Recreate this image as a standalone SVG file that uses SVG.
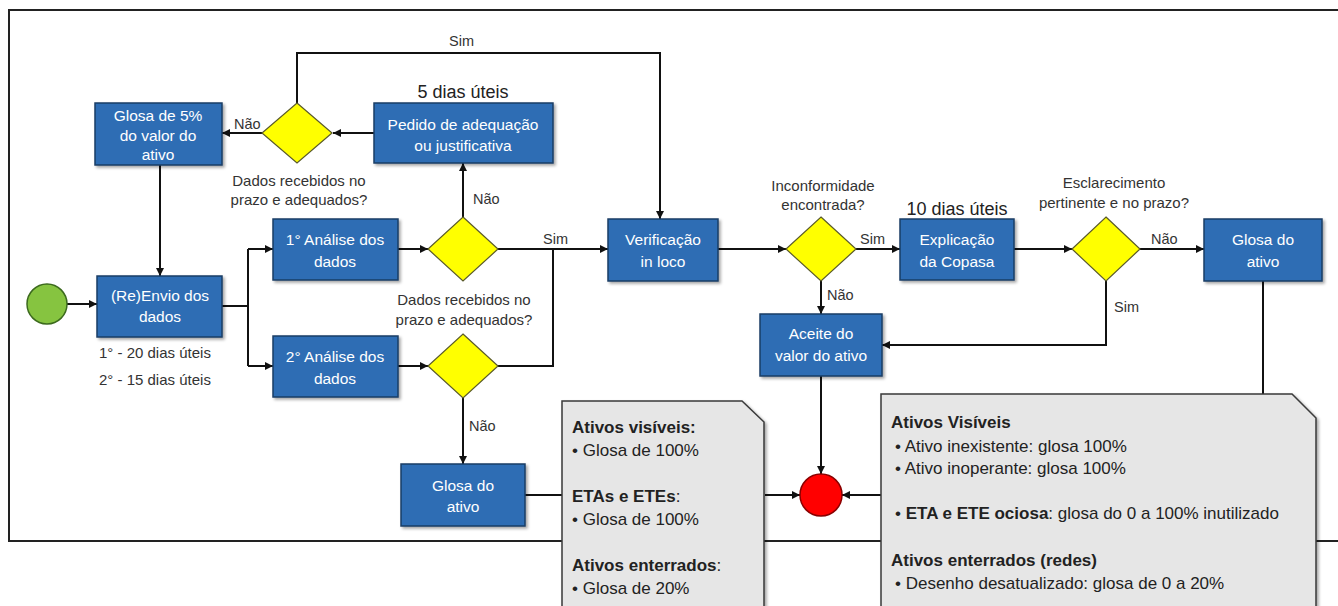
<svg xmlns="http://www.w3.org/2000/svg" width="1338" height="606" viewBox="0 0 1338 606">
<style>
text{font-family:"Liberation Sans",Arial,sans-serif;}
.box{fill:#2E6DB4;stroke:#1B3D66;stroke-width:1.5;filter:url(#sh);}
.bt{fill:#fff;font-size:15.5px;text-anchor:middle;}
.dia{fill:#FFFF00;stroke:#5a5a2a;stroke-width:1.2;}
.lbl{fill:#333;font-size:14.5px;}
.lc{fill:#333;font-size:15px;text-anchor:middle;}
.big{fill:#222;font-size:18px;text-anchor:middle;}
.ln{fill:none;stroke:#111;stroke-width:2;}
.ar{marker-end:url(#ah);}
.note{fill:#E6E6E6;stroke:#3a3a3a;stroke-width:1.5;filter:url(#sh);}
.nt{fill:#222;font-size:17px;}
.b{font-weight:bold;}
</style>
<defs>
<marker id="ah" markerUnits="userSpaceOnUse" markerWidth="9" markerHeight="9" refX="8" refY="4" orient="auto">
<path d="M0,0 L8,4 L0,8 z" fill="#111"/>
</marker>
<filter id="sh" x="-10%" y="-10%" width="125%" height="130%">
<feDropShadow dx="2" dy="2" stdDeviation="1.5" flood-color="#000" flood-opacity="0.35"/>
</filter>
</defs>
<rect id="frame" x="9" y="10" width="1340" height="531" fill="none" stroke="#222" stroke-width="2"/>
<g id="connectors">
<line class="ln ar" x1="67" y1="304" x2="97" y2="304"/>
<line class="ln ar" x1="160" y1="165" x2="160" y2="276"/>
<line class="ln ar" x1="374" y1="133" x2="333" y2="133"/>
<line class="ln ar" x1="263" y1="133" x2="222" y2="133"/>
<path class="ln ar" d="M297,103 V53 H660 V219"/>
<path class="ln" d="M222,306 H248 M248,249 V366"/>
<line class="ln ar" x1="248" y1="249" x2="273" y2="249"/>
<line class="ln ar" x1="248" y1="366" x2="273" y2="366"/>
<line class="ln ar" x1="398" y1="249" x2="428" y2="249"/>
<line class="ln ar" x1="398" y1="366" x2="428" y2="366"/>
<line class="ln ar" x1="463" y1="217" x2="463" y2="163"/>
<line class="ln ar" x1="498" y1="249" x2="608" y2="249"/>
<path class="ln" d="M553,249 V366 H498"/>
<line class="ln ar" x1="463" y1="398" x2="463" y2="464"/>
<line class="ln" x1="525" y1="495" x2="562" y2="495"/>
<line class="ln ar" x1="765" y1="495" x2="800" y2="495"/>
<line class="ln ar" x1="718" y1="249" x2="786" y2="249"/>
<line class="ln ar" x1="856" y1="249" x2="900" y2="249"/>
<line class="ln ar" x1="821" y1="281" x2="821" y2="314"/>
<line class="ln ar" x1="1014" y1="249" x2="1072" y2="249"/>
<line class="ln ar" x1="1140" y1="249" x2="1204" y2="249"/>
<path class="ln ar" d="M1106,281 V345 H882"/>
<line class="ln" x1="1263" y1="281" x2="1263" y2="394"/>
<line class="ln ar" x1="821" y1="376" x2="821" y2="474"/>
<line class="ln ar" x1="881" y1="495" x2="842" y2="495"/>
<text class="lbl" x="449" y="46">Sim</text>
<text class="lbl" x="234" y="129">Não</text>
<text class="lbl" x="473" y="204">Não</text>
<text class="lbl" x="543" y="244">Sim</text>
<text class="lbl" x="469" y="431">Não</text>
<text class="lbl" x="860" y="244">Sim</text>
<text class="lbl" x="827" y="300">Não</text>
<text class="lbl" x="1151" y="244">Não</text>
<text class="lbl" x="1114" y="312">Sim</text>
</g>
<g id="start"><circle cx="47" cy="304" r="20" fill="#86C440" stroke="#3C6A1E" stroke-width="1.5"/></g>
<g id="envio">
<rect class="box" x="97" y="276" width="125" height="61"/>
<text class="bt" x="160" y="301">(Re)Envio dos</text>
<text class="bt" x="160" y="322">dados</text>
<text class="lbl" x="99" y="358" style="font-size:15px">1° - 20 dias úteis</text>
<text class="lbl" x="99" y="385" style="font-size:15px">2° - 15 dias úteis</text>
</g>
<g id="glosa5">
<rect class="box" x="95" y="103" width="127" height="62"/>
<text class="bt" x="158" y="121">Glosa de 5%</text>
<text class="bt" x="158" y="141">do valor do</text>
<text class="bt" x="158" y="160">ativo</text>
</g>
<g id="dec1">
<polygon class="dia" points="297,103 332,133 297,163 262,133"/>
<text class="lc" x="299" y="186">Dados recebidos no</text>
<text class="lc" x="299" y="205">prazo e adequados?</text>
</g>
<g id="pedido">
<text class="big" x="463" y="98">5 dias úteis</text>
<rect class="box" x="374" y="103" width="179" height="60"/>
<text class="bt" x="463" y="130">Pedido de adequação</text>
<text class="bt" x="463" y="151">ou justificativa</text>
</g>
<g id="analise1">
<rect class="box" x="273" y="219" width="125" height="61"/>
<text class="bt" x="335" y="245">1° Análise dos</text>
<text class="bt" x="335" y="267">dados</text>
</g>
<g id="analise2">
<rect class="box" x="273" y="336" width="125" height="61"/>
<text class="bt" x="335" y="362">2° Análise dos</text>
<text class="bt" x="335" y="384">dados</text>
</g>
<g id="dec2">
<polygon class="dia" points="463,217 498,249 463,281 428,249"/>
<text class="lc" x="464" y="305">Dados recebidos no</text>
<text class="lc" x="464" y="325">prazo e adequados?</text>
</g>
<g id="dec3"><polygon class="dia" points="463,334 498,366 463,398 428,366"/></g>
<g id="glosa-baixo">
<rect class="box" x="401" y="464" width="124" height="62"/>
<text class="bt" x="463" y="491">Glosa do</text>
<text class="bt" x="463" y="512">ativo</text>
</g>
<g id="verificacao">
<rect class="box" x="608" y="219" width="110" height="62"/>
<text class="bt" x="663" y="245">Verificação</text>
<text class="bt" x="663" y="267">in loco</text>
</g>
<g id="dec4">
<polygon class="dia" points="821,217 856,249 821,281 786,249"/>
<text class="lc" x="823" y="191">Inconformidade</text>
<text class="lc" x="823" y="210">encontrada?</text>
</g>
<g id="explicacao">
<text class="big" x="957" y="215">10 dias úteis</text>
<rect class="box" x="900" y="219" width="114" height="61"/>
<text class="bt" x="957" y="245">Explicação</text>
<text class="bt" x="957" y="267">da Copasa</text>
</g>
<g id="dec5">
<polygon class="dia" points="1106,217 1140,249 1106,281 1072,249"/>
<text class="lc" x="1114" y="188">Esclarecimento</text>
<text class="lc" x="1114" y="208">pertinente e no prazo?</text>
</g>
<g id="glosa-direita">
<rect class="box" x="1204" y="219" width="118" height="62"/>
<text class="bt" x="1263" y="245">Glosa do</text>
<text class="bt" x="1263" y="267">ativo</text>
</g>
<g id="aceite">
<rect class="box" x="760" y="314" width="122" height="62"/>
<text class="bt" x="821" y="339">Aceite do</text>
<text class="bt" x="821" y="361">valor do ativo</text>
</g>
<g id="end"><circle cx="821" cy="495" r="21" fill="#FF0000" stroke="#8a0000" stroke-width="1.5"/></g>
<g id="nota1">
<polygon class="note" points="562,401 742,401 764,422 764,620 562,620"/>
<text class="nt b" x="572" y="433">Ativos visíveis:</text>
<text class="nt" x="572" y="456">•  Glosa de 100%</text>
<text class="nt" x="572" y="502"><tspan class="b">ETAs e ETEs</tspan>:</text>
<text class="nt" x="572" y="525">•  Glosa de 100%</text>
<text class="nt" x="572" y="571"><tspan class="b">Ativos enterrados</tspan>:</text>
<text class="nt" x="572" y="594">•  Glosa de 20%</text>
</g>
<g id="nota2">
<polygon class="note" points="881,394 1292,394 1316,418 1316,620 881,620"/>
<text class="nt b" x="891" y="428">Ativos Visíveis</text>
<text class="nt" x="895" y="452">• Ativo inexistente: glosa 100%</text>
<text class="nt" x="895" y="474">• Ativo inoperante: glosa 100%</text>
<text class="nt" x="895" y="519">• <tspan class="b">ETA e ETE ociosa</tspan>: glosa do 0 a 100% inutilizado</text>
<text class="nt b" x="891" y="566">Ativos enterrados (redes)</text>
<text class="nt" x="895" y="589">• Desenho desatualizado: glosa de 0 a 20%</text>
</g>
</svg>
